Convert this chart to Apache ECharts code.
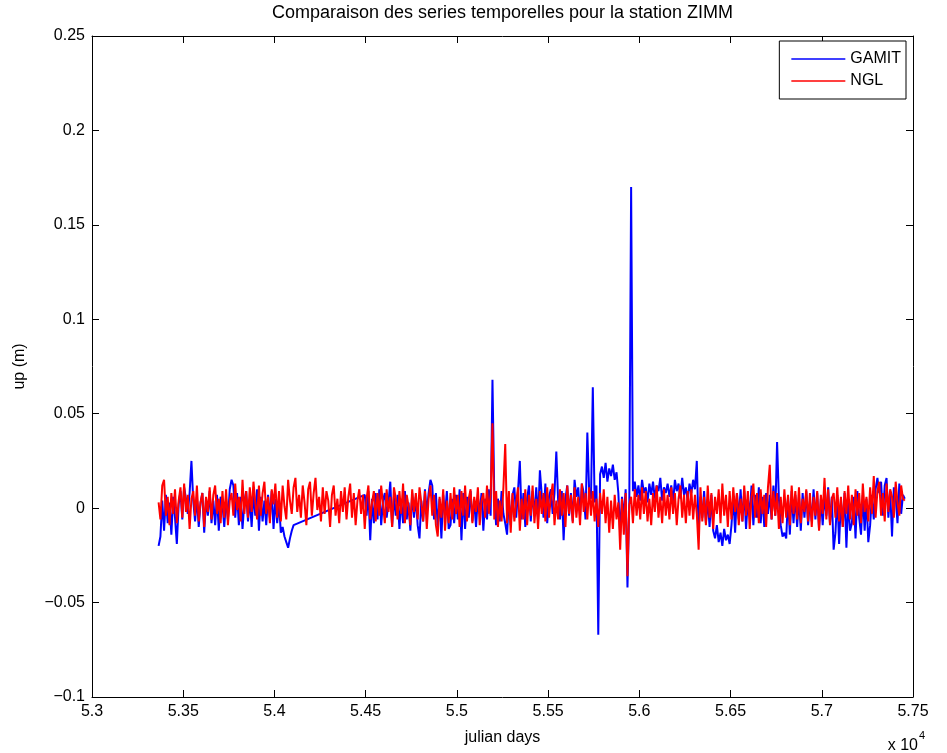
<!DOCTYPE html>
<html>
<head>
<meta charset="utf-8">
<script src="https://cdn.jsdelivr.net/npm/echarts@6/dist/echarts.min.js"></script>
<style>
  html, body { margin: 0; padding: 0; background: #fff; }
  #chart { width: 947px; height: 753px; }
</style>
</head>
<body>
<div id="chart"></div>
<script>
// ---- Data ----
const chartTitle = 'Comparaison des series temporelles pour la station ZIMM';
const xAxisName = 'julian days';
const yAxisName = 'up (m)';
const seriesNames = ['GAMIT', 'NGL'];
const xTickValues = [53000, 53500, 54000, 54500, 55000, 55500, 56000, 56500, 57000, 57500];
const yTickValues = [-0.1, -0.05, 0, 0.05, 0.1, 0.15, 0.2, 0.25];

// Sampled epochs: first julian day and spacing of the samples (days)
const firstDay = 53365;
const dayStep = 10;

// GAMIT up component, millimetres (null = data gap, bridged by a straight segment)
const gamitUpMm = [
  -20, -15, 4, -12, 7, -8, 3, -14, 6, -5,
  -19, 2, 9, -6, 11, 5, -3, 8, 25, 4,
  -7, 6, -10, 3, 8, -13, 5, -4, 9, -8,
  4, -9, 7, -12, 6, 2, -10, 5, -6, 10,
  15, 12, -5, 8, -9, 6, -11, 3, 9, -7,
  5, -10, 8, -4, 10, -12, 6, -7, 4, -9,
  7, -5, 9, -11, 5, -8, 3, -13, -10, -15,
  -18, -21, -16, -12, -9, -8, null, null, null, null,
  null, null, null, null, null, null, null, null, null, null,
  null, null, null, null, null, null, null, null, null, null,
  null, null, null, null, null, null, null, null, null, null,
  null, null, null, 7, -4, 9, -17, 5, -8, 8,
  -6, 10, -9, 4, 8, -5, 3, 14, -10, 6,
  -4, 7, -11, 5, -8, 9, -6, 3, -12, 8,
  -5, 6, -9, -16, 4, -7, 10, -3, 8, 15,
  12, -6, 8, -10, 5, -16, 7, -4, 9, -11,
  -9, 5, -8, 7, -6, 10, -17, 8, -11, 6,
  -5, 9, -7, 4, -10, 6, -3, 8, -12, 5,
  -6, 10, -4, 68, 7, -9, 5, -7, 9, -3,
  -8, -14, 6, -9, 7, 11, -5, 9, 25, -6,
  8, -10, 5, 12, -7, 9, -4, 11, -6, 20,
  7, -5, 13, -8, 6, 10, -3, 8, 30, 4,
  -6, 9, -17, 5, 12, -4, 8, -7, 15, 6,
  11, -4, 13, 8, -6, 40, 9, 5, 64, 3,
  12, -67, 18, 22, 16, 24, 14, 21, 17, 23,
  15, 19, 8, -14, 6, -5, 10, -42, 3, 170,
  9, 14, 6, 12, 4, 15, 8, 11, 3, 13,
  7, 14, 5, 12, 9, 16, 4, 11, 8, 13,
  6, 12, 3, 15, 9, 13, 5, 16, 7, 11,
  4, 13, 8, 15, 10, 25, -12, 6, -5, 9,
  -8, 5, -10, 7, -12, -16, -9, -18, -13, -20,
  -11, -17, -14, -19, -9, 6, -13, 8, -6, 10,
  -7, 9, -11, 5, -4, 12, -9, 7, -5, 11,
  -8, 6, -10, 8, -3, 7, -6, 12, -4, 35,
  5, -9, -15, -13, -16, 6, -14, 9, -8, 7,
  -10, 6, -12, 8, -5, 9, -9, 4, -7, 10,
  -6, 8, -11, 5, -9, 7, -4, 11, -8, 6,
  -22, -13, 7, -19, 5, -10, 8, -21, 4, -12,
  -8, 6, -16, 9, -5, -14, 7, -12, 5, -18,
  -9, 7, -6, 10, 16, 8, 14, -4, 12, 16,
  -5, 9, -15, 11, 6, -8, 13, -3, 7, 5
];

// NGL up component, millimetres
const nglUpMm = [
  3, -6, 12, 15, -4, 6, -9, 8, -3, 10,
  -8, 4, 11, -5, 13, -2, 7, -11, 5, 9,
  -4, 12, -7, 3, 8, -10, 6, -2, 11, -6,
  7, 12, -3, 5, -8, 9, -5, 10, -9, 4,
  8, -4, 13, -1, 6, -7, 15, -3, 9, -5,
  11, -2, 14, 3, -6, 12, -4, 8, 14, -3,
  6, -8, 10, 2, 13, -5, 9, -7, 12, 1,
  -6, 15, 4, -3, 11, 16, -2, 7, -5, 12,
  3, -9, 10, 14, -4, 8, 16, -1, 6, -7,
  11, -3, 9, 4, -10, 7, 12, -4, 5, -8,
  9, -2, 11, -6, 6, 13, -5, 8, -9, 4,
  10, -3, 7, -11, 5, 12, -6, 3, 9, -7,
  8, -4, 12, 2, -8, 10, -2, 6, -10, 11,
  5, -6, 9, -3, 13, -8, 7, 1, -9, 10,
  -2, 8, -6, 11, 3, -7, 9, -11, 5, 12,
  -4, 7, -9, -15, 6, -5, 10, -12, 4, -8,
  8, -6, 11, -3, 7, -10, 9, -4, 12, -7,
  5, 10, -8, 6, -2, 11, -9, 4, 8, -5,
  12, -3, 7, 45, -6, 9, -10, 4, -7, 11,
  34, -8, 9, -13, 8, -7, 3, 11, -12, 5,
  -6, 10, -9, 7, -4, 12, -8, 5, -11, 9,
  -3, 8, -7, 11, -5, 6, 13, -9, 4, -6,
  10, -4, 8, -10, 12, -3, 7, -8, 11, -5,
  6, -9, 13, -2, 8, -6, 11, -4, 9, -7,
  5, -10, 8, -3, 10, -8, 6, -13, 4, -11,
  7, -6, 3, -22, 5, -14, 8, -36, 2, 6,
  -8, 10, -4, 7, -6, 11, -3, 9, -7, 5,
  -9, 8, -2, 12, -5, 6, -8, 10, -4, 7,
  -6, 11, -3, 8, -9, 5, 12, -5, 7, -8,
  9, -4, 10, -6, 7, -3, -22, 11, -7, 6,
  -9, 12, -5, 8, -11, 6, -3, 10, -8, 13,
  -4, 7, -10, 9, -6, 11, -2, 8, -9, 5,
  -7, 12, -4, 9, -11, 6, 13, -5, 8, -8,
  10, -3, 7, -10, 11, 23, -6, 9, -4, 8,
  -11, 6, -8, 10, -5, 7, -9, 12, -3, 9,
  -6, 11, -8, 5, -2, 10, -7, 8, -10, 6,
  -4, 9, -12, 7, -3, 16, -6, 10, -9, 5,
  8, -5, 11, -7, 6, -10, 9, -3, 12, -6,
  7, -9, 10, -4, 8, -8, 13, -2, 6, -7,
  11, -3, 17, -5, 9, 14, -4, 8, -7, 13,
  -2, 10, 6, -5, 14, 3, -4, 12, 5, 4
];

// ---- Build series data ----
function toPairs(arr) {
  return arr.map((v, i) => [firstDay + i * dayStep, v === null ? null : v / 1000]);
}
const gamitData = toPairs(gamitUpMm);
const nglData = toPairs(nglUpMm);

const FONT = '"Liberation Sans", Arial, Helvetica, sans-serif';
const GRID = { left: 92, right: 34, top: 36, bottom: 56 };
const plotCx = GRID.left + (947 - GRID.left - GRID.right) / 2;
const plotCy = GRID.top + (753 - GRID.top - GRID.bottom) / 2;

function fmtX(v) { return String(Math.round(v / 10) / 1000); }
function fmtY(v) {
  const r = Math.round(v * 100) / 100;
  return r < 0 ? '\u2212' + String(-r) : String(r);
}

const axisCommon = {
  axisLine: { show: true, onZero: false, lineStyle: { color: '#000', width: 1 } },
  axisTick: { show: true, inside: true, length: 7, lineStyle: { color: '#000', width: 1 } },
  splitLine: { show: false },
  minorTick: { show: false }
};

const chart = echarts.init(document.getElementById('chart'), null, { renderer: 'canvas' });
chart.setOption({
  animation: false,
  backgroundColor: '#fff',
  grid: GRID,
  xAxis: [
    Object.assign({
      type: 'value', position: 'bottom', min: xTickValues[0], max: xTickValues[xTickValues.length - 1], interval: 500,
      axisLabel: { show: true, formatter: fmtX, color: '#000', fontSize: 16, fontFamily: FONT, margin: 7, showMinLabel: true, showMaxLabel: true, hideOverlap: false }
    }, axisCommon),
    Object.assign({
      type: 'value', position: 'top', min: xTickValues[0], max: xTickValues[xTickValues.length - 1], interval: 500,
      axisLabel: { show: false }
    }, axisCommon)
  ],
  yAxis: [
    Object.assign({
      type: 'value', position: 'left', min: yTickValues[0], max: yTickValues[yTickValues.length - 1], interval: 0.05,
      axisLabel: { show: true, formatter: fmtY, color: '#000', fontSize: 16, fontFamily: FONT, margin: 7, showMinLabel: true, showMaxLabel: true }
    }, axisCommon),
    Object.assign({
      type: 'value', position: 'right', min: yTickValues[0], max: yTickValues[yTickValues.length - 1], interval: 0.05,
      axisLabel: { show: false }
    }, axisCommon)
  ],
  legend: {
    data: seriesNames,
    orient: 'vertical',
    right: 41, top: 41,
    icon: 'rect',
    itemWidth: 54, itemHeight: 1.5,
    itemGap: 6,
    padding: [10, 5, 10, 12],
    borderColor: '#000', borderWidth: 1,
    backgroundColor: '#fff',
    textStyle: { color: '#000', fontSize: 16, lineHeight: 16, fontFamily: FONT }
  },
  series: [
    {
      name: seriesNames[0], type: 'line', data: gamitData, xAxisIndex: 0, yAxisIndex: 0,
      showSymbol: false, connectNulls: true, clip: true,
      lineStyle: { color: '#0000ff', width: 2 }, itemStyle: { color: '#0000ff' }
    },
    {
      name: seriesNames[1], type: 'line', data: nglData, xAxisIndex: 0, yAxisIndex: 0,
      showSymbol: false, connectNulls: false, clip: true,
      lineStyle: { color: '#ff0000', width: 2 }, itemStyle: { color: '#ff0000' }
    }
  ],
  graphic: [
    { type: 'text', x: plotCx, y: 13, style: { text: chartTitle, fill: '#000', font: '18px ' + FONT, align: 'center', verticalAlign: 'middle', textAlign: 'center', textVerticalAlign: 'middle' } },
    { type: 'text', x: plotCx, y: 738, style: { text: xAxisName, fill: '#000', font: '16px ' + FONT, align: 'center', verticalAlign: 'middle', textAlign: 'center', textVerticalAlign: 'middle' } },
    { type: 'text', x: 20, y: plotCy, rotation: Math.PI / 2, style: { text: yAxisName, fill: '#000', font: '16px ' + FONT, align: 'center', verticalAlign: 'middle', textAlign: 'center', textVerticalAlign: 'middle' } },
    { type: 'text', x: 918, y: 746, style: { text: 'x 10', fill: '#000', font: '16px ' + FONT, align: 'right', verticalAlign: 'middle', textAlign: 'right', textVerticalAlign: 'middle' } },
    { type: 'text', x: 919, y: 736, style: { text: '4', fill: '#000', font: '11px ' + FONT, align: 'left', verticalAlign: 'middle', textAlign: 'left', textVerticalAlign: 'middle' } }
  ]
});
</script>
</body>
</html>
